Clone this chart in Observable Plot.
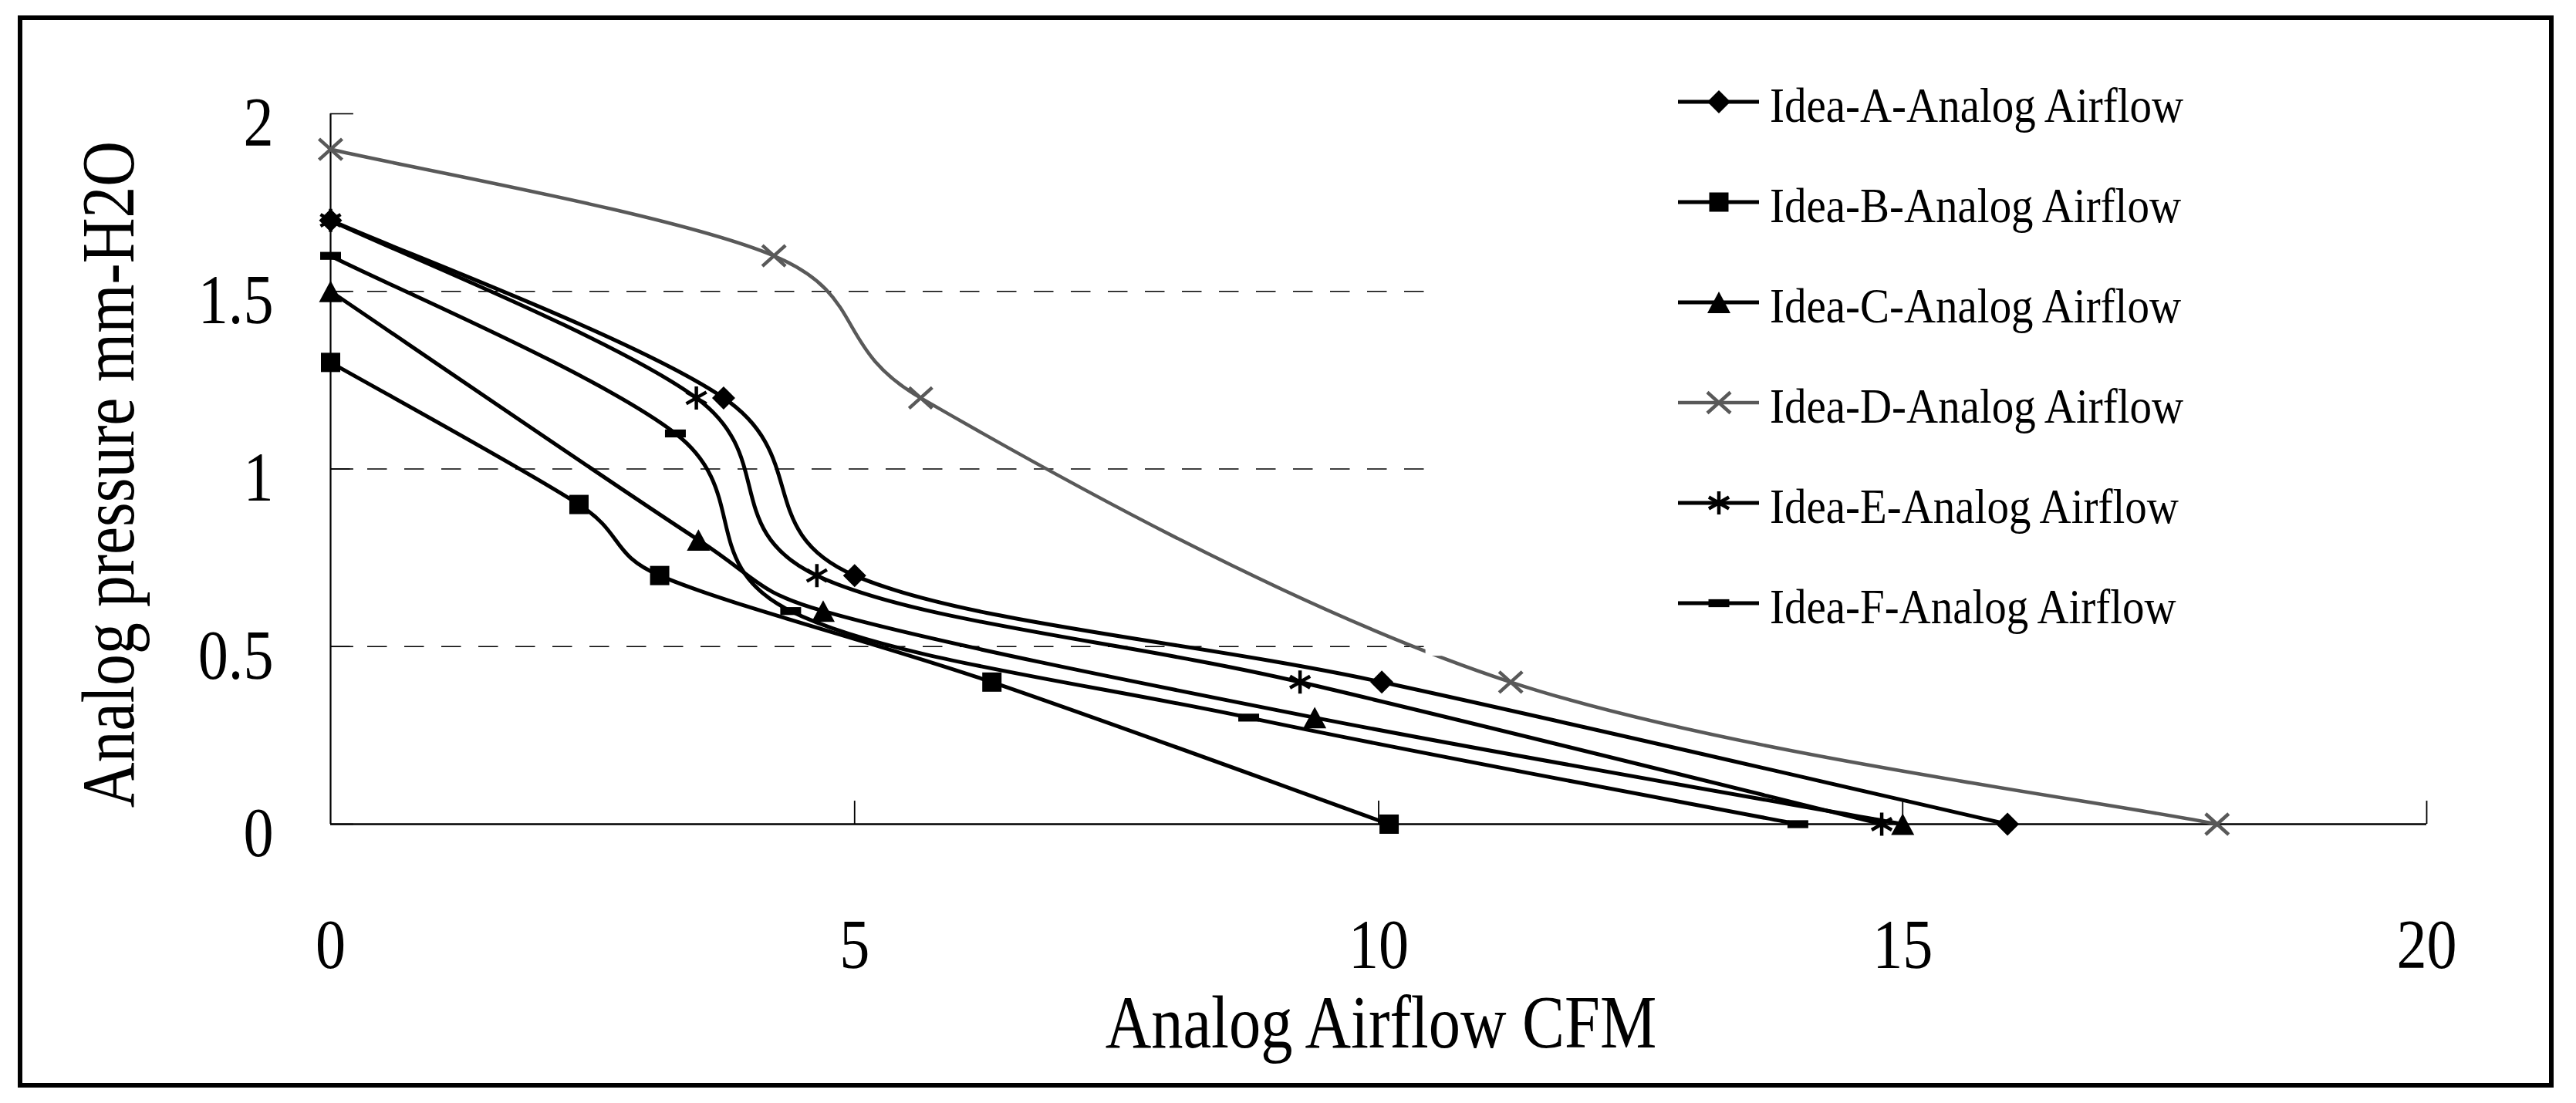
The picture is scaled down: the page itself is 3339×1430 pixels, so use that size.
<!DOCTYPE html>
<html>
<head>
<meta charset="utf-8">
<script src="https://cdn.jsdelivr.net/npm/d3@7"></script>
<script src="https://cdn.jsdelivr.net/npm/@observablehq/plot@0.6"></script>
<style>
  html, body { margin: 0; padding: 0; background: #fff; overflow: hidden; }
  #chart svg { display: block; }
</style>
</head>
<body>
<div id="chart"></div>
<script>
// ---------- data ----------
const seriesNames = [
  "Idea-A-Analog Airflow",
  "Idea-B-Analog Airflow",
  "Idea-C-Analog Airflow",
  "Idea-D-Analog Airflow",
  "Idea-E-Analog Airflow",
  "Idea-F-Analog Airflow"
];
const xA = [0, 3.75, 5.0, 10.03, 16.0];
const yA = [1.7, 1.2, 0.7, 0.4, 0];
const xB = [0, 2.37, 3.14, 6.31, 10.1];
const yB = [1.3, 0.9, 0.7, 0.4, 0];
const xC = [0, 3.51, 4.70, 9.39, 15.0];
const yC = [1.5, 0.8, 0.6, 0.3, 0];
const xD = [0, 4.23, 5.63, 11.26, 18.0];
const yD = [1.9, 1.6, 1.2, 0.4, 0];
const xE = [0, 3.49, 4.64, 9.25, 14.8];
const yE = [1.7, 1.2, 0.7, 0.4, 0];
const xF = [0, 3.29, 4.39, 8.76, 14.0];
const yF = [1.6, 1.1, 0.6, 0.3, 0];

const xTicks = [0, 5, 10, 15, 20];
const yTicks = [0, 0.5, 1, 1.5, 2];
const gridValues = [0.5, 1, 1.5];
const xTitle = "Analog Airflow CFM";
const yTitle = "Analog pressure mm-H2O";

// ---------- spreadsheet-style smoothed line (Bezier, control arm capped at half segment) ----------
function curveSmooth(context) {
  let pts = [];
  return {
    areaStart() {}, areaEnd() {},
    lineStart() { pts = []; },
    point(x, y) { pts.push([+x, +y]); },
    lineEnd() {
      const n = pts.length;
      if (!n) return;
      context.moveTo(pts[0][0], pts[0][1]);
      for (let i = 0; i < n - 1; i++) {
        const p0 = pts[Math.max(0, i - 1)], p1 = pts[i], p2 = pts[i + 1], p3 = pts[Math.min(n - 1, i + 2)];
        const d12 = Math.hypot(p2[0] - p1[0], p2[1] - p1[1]);
        const d02 = Math.hypot(p2[0] - p0[0], p2[1] - p0[1]);
        const d13 = Math.hypot(p3[0] - p1[0], p3[1] - p1[1]);
        let f1 = 1 / 6, f2 = 1 / 6;
        if (d02 * f1 > d12 / 2) f1 = d12 / (2 * d02);
        if (d13 * f2 > d12 / 2) f2 = d12 / (2 * d13);
        context.bezierCurveTo(
          p1[0] + f1 * (p2[0] - p0[0]), p1[1] + f1 * (p2[1] - p0[1]),
          p2[0] - f2 * (p3[0] - p1[0]), p2[1] - f2 * (p3[1] - p1[1]),
          p2[0], p2[1]);
      }
    }
  };
}

// ---------- marker shapes ----------
function polySymbol(pts) {
  return {
    draw(ctx, size) {
      const s = Math.sqrt(size / Math.PI);
      ctx.moveTo(pts[0][0] * s, pts[0][1] * s);
      for (let i = 1; i < pts.length; ++i) ctx.lineTo(pts[i][0] * s, pts[i][1] * s);
      ctx.closePath();
    }
  };
}
function strokeSymbol(segs) {
  return {
    draw(ctx, size) {
      const s = Math.sqrt(size / Math.PI);
      for (const [a, b] of segs) {
        ctx.moveTo(a[0] * s, a[1] * s);
        ctx.lineTo(b[0] * s, b[1] * s);
      }
    }
  };
}
const symDiamond = polySymbol([[0, -1], [1, 0], [0, 1], [-1, 0]]);
const symSquare = polySymbol([[-1, -1], [1, -1], [1, 1], [-1, 1]]);
const symTriangle = polySymbol([[0, -0.93], [1, 0.93], [-1, 0.93]]);
const symDash = polySymbol([[-1, -0.38], [1, -0.38], [1, 0.38], [-1, 0.38]]);
const symTimes = strokeSymbol([[[-1, -0.9], [1, 0.9]], [[-1, 0.9], [1, -0.9]]]);
const symAsterisk = strokeSymbol([[[0, -1], [0, 1]], [[-0.87, -0.5], [0.87, 0.5]], [[-0.87, 0.5], [0.87, -0.5]]]);

const series = [
  {name: seriesNames[0], xs: xA, ys: yA, color: "#000", width: 5, symbol: symDiamond, r: 15, filled: true},
  {name: seriesNames[1], xs: xB, ys: yB, color: "#000", width: 5, symbol: symSquare, r: 12.5, filled: true},
  {name: seriesNames[2], xs: xC, ys: yC, color: "#000", width: 5, symbol: symTriangle, r: 15, filled: true},
  {name: seriesNames[3], xs: xD, ys: yD, color: "#595959", width: 4.5, symbol: symTimes, r: 15, filled: false},
  {name: seriesNames[4], xs: xE, ys: yE, color: "#000", width: 5, symbol: symAsterisk, r: 15, filled: false},
  {name: seriesNames[5], xs: xF, ys: yF, color: "#000", width: 5, symbol: symDash, r: 13.5, filled: true}
];

// ---------- plot ----------
const marks = [
  Plot.ruleY(gridValues, {x1: 0, x2: 10.45, stroke: "#000", strokeWidth: 1.3, strokeDasharray: "25.5,22.5"}),
  Plot.ruleX([0], {y1: 0, y2: 2, stroke: "#000", strokeWidth: 2.2}),
  Plot.ruleY(yTicks, {x1: 0, x2: 0.22, stroke: "#000", strokeWidth: 1.6}),
  Plot.ruleX(xTicks.slice(1), {y1: 0, y2: 0.065, stroke: "#000", strokeWidth: 1.8}),
  Plot.ruleY([0], {x1: 0, x2: 20, stroke: "#000", strokeWidth: 2.6})
];
for (const s of series) {
  const rows = s.xs.map((x, i) => ({x, y: s.ys[i]}));
  marks.push(Plot.line(rows, {x: "x", y: "y", curve: curveSmooth, stroke: s.color, strokeWidth: s.width}));
  marks.push(Plot.dot(rows, {
    x: "x", y: "y", symbol: s.symbol, r: s.r,
    fill: s.filled ? s.color : "none",
    stroke: s.filled ? "none" : s.color,
    strokeWidth: s.filled ? 0 : 4.5
  }));
}
// legend background box (covers the plot area under the legend)
marks.push(Plot.rect([0], {x1: 10.45, x2: 20, y1: 0.473, y2: 2, fill: "white"}));
marks.push(Plot.axisX({ticks: xTicks, tickSize: 0, tickPadding: 121, fontSize: 92, tickFormat: d => String(d), label: null}));
marks.push(Plot.axisY({ticks: yTicks, tickSize: 0, tickPadding: 74, fontSize: 92, dy: 12, tickFormat: d => String(d), label: null}));

const chart = Plot.plot({
  width: 3339,
  height: 1430,
  marginLeft: 428,
  marginRight: 194,
  marginTop: 147,
  marginBottom: 362,
  x: {domain: [0, 20], label: null},
  y: {domain: [0, 2], label: null},
  style: {fontFamily: "'Liberation Serif', 'DejaVu Serif', serif", background: "white", color: "black"},
  marks
});

const svg = d3.select(chart);

// condense tick labels horizontally (the original font is narrow)
chart.querySelectorAll('g[aria-label*="tick label"] text').forEach(t => {
  const tr = t.getAttribute("transform");
  if (tr) {
    t.setAttribute("transform", tr + " scale(0.85,1)");
  } else {
    const x = +t.getAttribute("x") || 0;
    t.setAttribute("x", 0);
    t.setAttribute("transform", `translate(${x},0) scale(0.85,1)`);
  }
});

// axis titles
svg.append("text")
  .attr("transform", "translate(1790,1358) scale(0.85,1)")
  .attr("text-anchor", "middle")
  .style("font-size", "97px")
  .attr("fill", "#000")
  .text(xTitle);
svg.append("text")
  .attr("transform", "translate(173,615) rotate(-90) scale(0.84,1)")
  .attr("text-anchor", "middle")
  .style("font-size", "97px")
  .attr("fill", "#000")
  .text(yTitle);

// legend
const lg = svg.append("g").attr("aria-label", "legend");
series.forEach((s, i) => {
  const cy = 132 + i * 130;
  lg.append("line").attr("x1", 2175).attr("x2", 2280).attr("y1", cy).attr("y2", cy)
    .attr("stroke", s.color).attr("stroke-width", s.width);
  lg.append("path")
    .attr("transform", `translate(2228,${cy})`)
    .attr("d", d3.symbol(s.symbol, s.r * s.r * Math.PI)())
    .attr("fill", s.filled ? s.color : "none")
    .attr("stroke", s.filled ? "none" : s.color)
    .attr("stroke-width", s.filled ? 0 : 4.5);
  lg.append("text")
    .attr("transform", `translate(2294,${cy + 26}) scale(0.89,1)`)
    .attr("text-anchor", "start")
    .style("font-size", "64px")
    .attr("fill", "#000")
    .text(s.name);
});

// outer frame
svg.append("rect")
  .attr("x", 26).attr("y", 23).attr("width", 3281).attr("height", 1384)
  .attr("fill", "none").attr("stroke", "#000").attr("stroke-width", 6);

document.getElementById("chart").appendChild(chart);
</script>
</body>
</html>
